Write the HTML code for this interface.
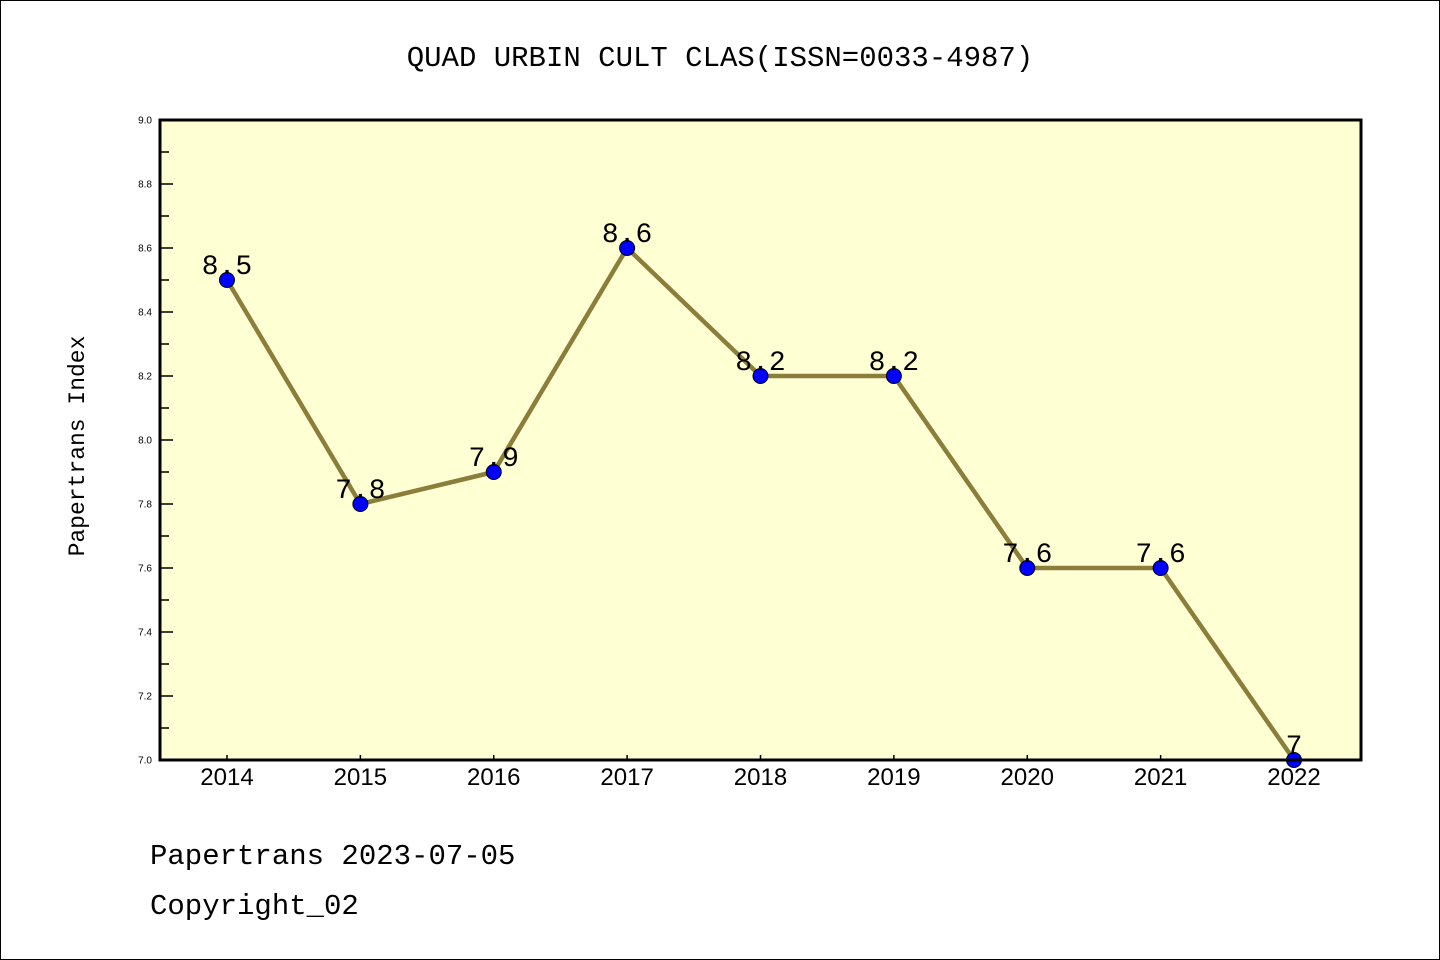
<!DOCTYPE html>
<html><head><meta charset="utf-8"><style>
body{margin:0;background:#fff}
svg{display:block}
text{font-family:"Liberation Mono","DejaVu Sans Mono",monospace}
</style></head><body>
<svg id="chart" width="1440" height="960" viewBox="0 0 1440 960">
<rect x="0.5" y="0.5" width="1439" height="959" fill="#fff" stroke="#000"/>
<text x="720" y="66" text-anchor="middle" font-size="29">QUAD URBIN CULT CLAS(ISSN=0033-4987)</text>
<rect x="160" y="120" width="1201" height="640" fill="#ffffd4"/>
<g id="axes"></g>
<g id="marks"></g>
<rect x="160" y="120" width="1201" height="640" fill="none" stroke="#000" stroke-width="3"/>
<text transform="translate(84,446) rotate(-90)" text-anchor="middle" font-size="23">Papertrans Index</text>
<text x="150" y="864" font-size="29">Papertrans 2023-07-05</text>
<text x="150" y="914" font-size="29">Copyright_02</text>
</svg>
<script>
const years = ["2014","2015","2016","2017","2018","2019","2020","2021","2022"];
const values = [8.5,7.8,7.9,8.6,8.2,8.2,7.6,7.6,7.0];
const valueLabels = ["8.5","7.8","7.9","8.6","8.2","8.2","7.6","7.6","7"];
const yTicks = ["7.0","7.2","7.4","7.6","7.8","8.0","8.2","8.4","8.6","8.8","9.0"];
const NS="http://www.w3.org/2000/svg";
const x0=227, dx=133.375, yMin=7, yMax=9, plotTop=120, plotBot=760;
const xs=i=>x0+i*dx;
const ys=v=>plotBot-(v-yMin)/(yMax-yMin)*(plotBot-plotTop);
function mk(tag,attrs,parent){const e=document.createElementNS(NS,tag);for(const k in attrs)e.setAttribute(k,attrs[k]);parent.appendChild(e);return e;}
const axes=document.getElementById('axes'), marks=document.getElementById('marks');
yTicks.forEach((t,i)=>{
  const v=parseFloat(t), y=ys(v);
  const l=mk('line',{x1:160,x2:173,y1:y,y2:y,stroke:'#000','stroke-width':1.5},axes);
  
  
  const tx=mk('text',{x:152,y:y+3.5,'text-anchor':'end',style:'font-family:"Liberation Sans",sans-serif;font-size:10px'},axes);
  tx.textContent=t;
  
  
  if(i<yTicks.length-1){
    const ym=ys(v+0.1);
    const m=mk('line',{x1:160,x2:169,y1:ym,y2:ym,stroke:'#000','stroke-width':1.5},axes);
    
    
  }
});
years.forEach((yr,i)=>{
  const x=xs(i);
  const l=mk('line',{x1:x,x2:x,y1:760,y2:755,stroke:'#000','stroke-width':1.5},axes);
  
  
  const t=mk('text',{x:x,y:785,'text-anchor':'middle',style:'font-family:"Liberation Sans",sans-serif;font-size:24px'},axes);
  t.textContent=yr;
  
  
});
const pts=values.map((v,i)=>xs(i)+','+ys(v)).join(' ');
const line=mk('polyline',{points:pts,fill:'none',stroke:'#8b7d3a','stroke-width':4.5,'stroke-linejoin':'round'},marks);


values.forEach((v,i)=>{
  const c=mk('circle',{cx:xs(i),cy:ys(v),r:7.5,fill:'#0000ff',stroke:'#000','stroke-width':1},marks);
  
  
  const t=mk('text',{x:xs(i),y:ys(v)-6,'text-anchor':'middle','font-size':28},marks);
  t.textContent=valueLabels[i];
  
  
});
</script>
</body></html>
